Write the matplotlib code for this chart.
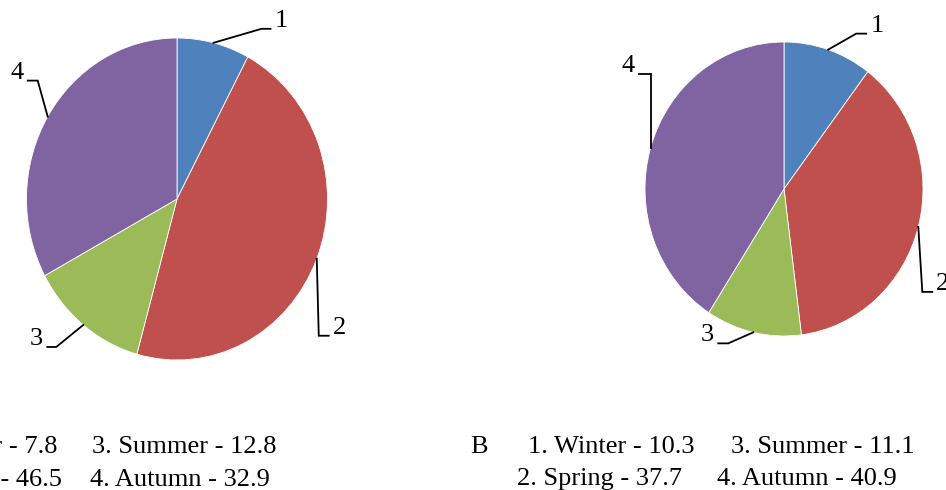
import matplotlib.pyplot as plt
import numpy as np

plt.rcParams['font.family'] = ['Liberation Serif', 'DejaVu Serif']

# data
seasons = ['Winter', 'Spring', 'Summer', 'Autumn']
share_a = [7.8, 46.5, 12.8, 32.9]
share_b = [10.3, 37.7, 11.1, 40.9]
colors = ['#4F81BD', '#C0504D', '#9BBB59', '#8064A2']

W, H = 946, 490
fig = plt.figure(figsize=(W / 100, H / 100), dpi=100)
LIM = 1.3

# leader lines: elbow offset from slice edge (px, y up) and horizontal run (px)
leaders_a = [((48, 14), 9), ((2, -77), 10), ((-27, -22), -9), ((-10, 36), -10)]
leaders_b = [((28, 16), 10), ((4, -65), 10), ((-25, -11), -10), ((0, 74), -12)]


def draw_pie(cx, cy, rx, ry, values, leaders):
    w, h = 2 * LIM * rx, 2 * LIM * ry
    ax = fig.add_axes([(cx - w / 2) / W, (H - cy - h / 2) / H, w / W, h / H])
    wedges, _ = ax.pie(values, colors=colors, startangle=90, counterclock=False,
                       wedgeprops=dict(edgecolor='white', linewidth=0.6))
    ax.set_aspect('auto')
    ax.set_xlim(-LIM, LIM)
    ax.set_ylim(-LIM, LIM)
    for i, (wd, ((ex, ey), run)) in enumerate(zip(wedges, leaders)):
        ang = np.deg2rad((wd.theta1 + wd.theta2) / 2)
        x0, y0 = np.cos(ang), np.sin(ang)
        x1, y1 = x0 + ex / rx, y0 + ey / ry
        x2 = x1 + run / rx
        ax.plot([x0, x1, x2], [y0, y1, y1], color='black', lw=1.3,
                clip_on=False, solid_joinstyle='miter')
        ax.text(x2 + np.sign(run) * 4 / rx, y1 + 2 / ry, str(i + 1),
                ha='left' if run > 0 else 'right', va='baseline', fontsize=19)
    return ax


draw_pie(177, 199, 150.5, 161, share_a, leaders_a)
draw_pie(784, 189, 139, 147, share_b, leaders_b)


def ftext(x, y, s, ha='left'):
    fig.text(x / W, 1 - y / H, s, ha=ha, va='baseline', fontsize=19)


def item(i, vals):
    return f'{i + 1}. {seasons[i]} - {vals[i]}'


# caption A (cut off on the left in the reference)
ftext(-150, 453, 'A', ha='right')
ftext(57, 453, item(0, share_a), ha='right')
ftext(92, 453, item(2, share_a))
ftext(62, 486, item(1, share_a), ha='right')
ftext(90, 486, item(3, share_a))

# caption B
ftext(470, 453, 'B')
ftext(528, 453, item(0, share_b))
ftext(731, 453, item(2, share_b))
ftext(517, 485, item(1, share_b))
ftext(717, 485, item(3, share_b))

fig.savefig('out.png', dpi=100)
